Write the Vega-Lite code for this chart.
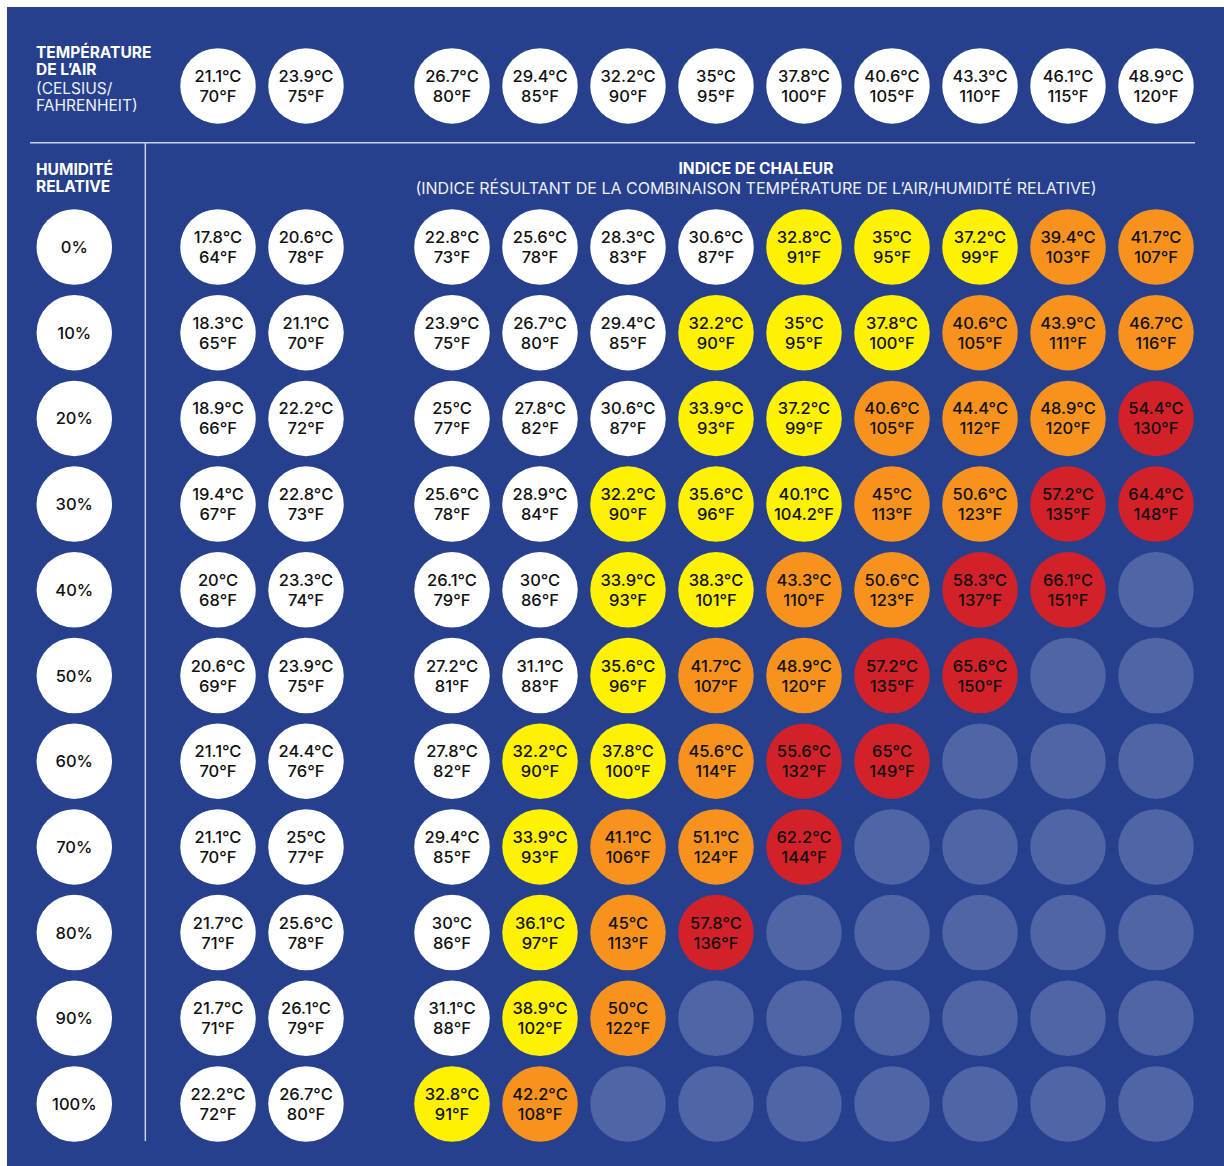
{
  "$schema": "https://vega.github.io/schema/vega-lite/v6.json",
  "width": 1217,
  "height": 1159,
  "padding": {"left": 7, "top": 7, "right": 0, "bottom": 0},
  "autosize": {"type": "none"},
  "background": "#ffffff",
  "config": {
    "view": {"fill": "#26408e", "stroke": null},
    "text": {"font": "Inter"}
  },
  "datasets": {
    "air": [
      {"air": 70, "texte": "21.1°C\n70°F"},
      {"air": 75, "texte": "23.9°C\n75°F"},
      {"air": 80, "texte": "26.7°C\n80°F"},
      {"air": 85, "texte": "29.4°C\n85°F"},
      {"air": 90, "texte": "32.2°C\n90°F"},
      {"air": 95, "texte": "35°C\n95°F"},
      {"air": 100, "texte": "37.8°C\n100°F"},
      {"air": 105, "texte": "40.6°C\n105°F"},
      {"air": 110, "texte": "43.3°C\n110°F"},
      {"air": 115, "texte": "46.1°C\n115°F"},
      {"air": 120, "texte": "48.9°C\n120°F"}
    ],
    "hr": [
      {"hr": 0, "texte": "0%"},
      {"hr": 10, "texte": "10%"},
      {"hr": 20, "texte": "20%"},
      {"hr": 30, "texte": "30%"},
      {"hr": 40, "texte": "40%"},
      {"hr": 50, "texte": "50%"},
      {"hr": 60, "texte": "60%"},
      {"hr": 70, "texte": "70%"},
      {"hr": 80, "texte": "80%"},
      {"hr": 90, "texte": "90%"},
      {"hr": 100, "texte": "100%"}
    ],
    "indice": [
      {"hr": 0, "air": 70, "texte": "17.8°C\n64°F", "niveau": "normal"},
      {"hr": 0, "air": 75, "texte": "20.6°C\n78°F", "niveau": "normal"},
      {"hr": 0, "air": 80, "texte": "22.8°C\n73°F", "niveau": "normal"},
      {"hr": 0, "air": 85, "texte": "25.6°C\n78°F", "niveau": "normal"},
      {"hr": 0, "air": 90, "texte": "28.3°C\n83°F", "niveau": "normal"},
      {"hr": 0, "air": 95, "texte": "30.6°C\n87°F", "niveau": "normal"},
      {"hr": 0, "air": 100, "texte": "32.8°C\n91°F", "niveau": "prudence"},
      {"hr": 0, "air": 105, "texte": "35°C\n95°F", "niveau": "prudence"},
      {"hr": 0, "air": 110, "texte": "37.2°C\n99°F", "niveau": "prudence"},
      {"hr": 0, "air": 115, "texte": "39.4°C\n103°F", "niveau": "danger"},
      {"hr": 0, "air": 120, "texte": "41.7°C\n107°F", "niveau": "danger"},

      {"hr": 10, "air": 70, "texte": "18.3°C\n65°F", "niveau": "normal"},
      {"hr": 10, "air": 75, "texte": "21.1°C\n70°F", "niveau": "normal"},
      {"hr": 10, "air": 80, "texte": "23.9°C\n75°F", "niveau": "normal"},
      {"hr": 10, "air": 85, "texte": "26.7°C\n80°F", "niveau": "normal"},
      {"hr": 10, "air": 90, "texte": "29.4°C\n85°F", "niveau": "normal"},
      {"hr": 10, "air": 95, "texte": "32.2°C\n90°F", "niveau": "prudence"},
      {"hr": 10, "air": 100, "texte": "35°C\n95°F", "niveau": "prudence"},
      {"hr": 10, "air": 105, "texte": "37.8°C\n100°F", "niveau": "prudence"},
      {"hr": 10, "air": 110, "texte": "40.6°C\n105°F", "niveau": "danger"},
      {"hr": 10, "air": 115, "texte": "43.9°C\n111°F", "niveau": "danger"},
      {"hr": 10, "air": 120, "texte": "46.7°C\n116°F", "niveau": "danger"},

      {"hr": 20, "air": 70, "texte": "18.9°C\n66°F", "niveau": "normal"},
      {"hr": 20, "air": 75, "texte": "22.2°C\n72°F", "niveau": "normal"},
      {"hr": 20, "air": 80, "texte": "25°C\n77°F", "niveau": "normal"},
      {"hr": 20, "air": 85, "texte": "27.8°C\n82°F", "niveau": "normal"},
      {"hr": 20, "air": 90, "texte": "30.6°C\n87°F", "niveau": "normal"},
      {"hr": 20, "air": 95, "texte": "33.9°C\n93°F", "niveau": "prudence"},
      {"hr": 20, "air": 100, "texte": "37.2°C\n99°F", "niveau": "prudence"},
      {"hr": 20, "air": 105, "texte": "40.6°C\n105°F", "niveau": "danger"},
      {"hr": 20, "air": 110, "texte": "44.4°C\n112°F", "niveau": "danger"},
      {"hr": 20, "air": 115, "texte": "48.9°C\n120°F", "niveau": "danger"},
      {"hr": 20, "air": 120, "texte": "54.4°C\n130°F", "niveau": "danger extrême"},

      {"hr": 30, "air": 70, "texte": "19.4°C\n67°F", "niveau": "normal"},
      {"hr": 30, "air": 75, "texte": "22.8°C\n73°F", "niveau": "normal"},
      {"hr": 30, "air": 80, "texte": "25.6°C\n78°F", "niveau": "normal"},
      {"hr": 30, "air": 85, "texte": "28.9°C\n84°F", "niveau": "normal"},
      {"hr": 30, "air": 90, "texte": "32.2°C\n90°F", "niveau": "prudence"},
      {"hr": 30, "air": 95, "texte": "35.6°C\n96°F", "niveau": "prudence"},
      {"hr": 30, "air": 100, "texte": "40.1°C\n104.2°F", "niveau": "prudence"},
      {"hr": 30, "air": 105, "texte": "45°C\n113°F", "niveau": "danger"},
      {"hr": 30, "air": 110, "texte": "50.6°C\n123°F", "niveau": "danger"},
      {"hr": 30, "air": 115, "texte": "57.2°C\n135°F", "niveau": "danger extrême"},
      {"hr": 30, "air": 120, "texte": "64.4°C\n148°F", "niveau": "danger extrême"},

      {"hr": 40, "air": 70, "texte": "20°C\n68°F", "niveau": "normal"},
      {"hr": 40, "air": 75, "texte": "23.3°C\n74°F", "niveau": "normal"},
      {"hr": 40, "air": 80, "texte": "26.1°C\n79°F", "niveau": "normal"},
      {"hr": 40, "air": 85, "texte": "30°C\n86°F", "niveau": "normal"},
      {"hr": 40, "air": 90, "texte": "33.9°C\n93°F", "niveau": "prudence"},
      {"hr": 40, "air": 95, "texte": "38.3°C\n101°F", "niveau": "prudence"},
      {"hr": 40, "air": 100, "texte": "43.3°C\n110°F", "niveau": "danger"},
      {"hr": 40, "air": 105, "texte": "50.6°C\n123°F", "niveau": "danger"},
      {"hr": 40, "air": 110, "texte": "58.3°C\n137°F", "niveau": "danger extrême"},
      {"hr": 40, "air": 115, "texte": "66.1°C\n151°F", "niveau": "danger extrême"},
      {"hr": 40, "air": 120, "texte": "", "niveau": "hors tableau"},

      {"hr": 50, "air": 70, "texte": "20.6°C\n69°F", "niveau": "normal"},
      {"hr": 50, "air": 75, "texte": "23.9°C\n75°F", "niveau": "normal"},
      {"hr": 50, "air": 80, "texte": "27.2°C\n81°F", "niveau": "normal"},
      {"hr": 50, "air": 85, "texte": "31.1°C\n88°F", "niveau": "normal"},
      {"hr": 50, "air": 90, "texte": "35.6°C\n96°F", "niveau": "prudence"},
      {"hr": 50, "air": 95, "texte": "41.7°C\n107°F", "niveau": "danger"},
      {"hr": 50, "air": 100, "texte": "48.9°C\n120°F", "niveau": "danger"},
      {"hr": 50, "air": 105, "texte": "57.2°C\n135°F", "niveau": "danger extrême"},
      {"hr": 50, "air": 110, "texte": "65.6°C\n150°F", "niveau": "danger extrême"},
      {"hr": 50, "air": 115, "texte": "", "niveau": "hors tableau"},
      {"hr": 50, "air": 120, "texte": "", "niveau": "hors tableau"},

      {"hr": 60, "air": 70, "texte": "21.1°C\n70°F", "niveau": "normal"},
      {"hr": 60, "air": 75, "texte": "24.4°C\n76°F", "niveau": "normal"},
      {"hr": 60, "air": 80, "texte": "27.8°C\n82°F", "niveau": "normal"},
      {"hr": 60, "air": 85, "texte": "32.2°C\n90°F", "niveau": "prudence"},
      {"hr": 60, "air": 90, "texte": "37.8°C\n100°F", "niveau": "prudence"},
      {"hr": 60, "air": 95, "texte": "45.6°C\n114°F", "niveau": "danger"},
      {"hr": 60, "air": 100, "texte": "55.6°C\n132°F", "niveau": "danger extrême"},
      {"hr": 60, "air": 105, "texte": "65°C\n149°F", "niveau": "danger extrême"},
      {"hr": 60, "air": 110, "texte": "", "niveau": "hors tableau"},
      {"hr": 60, "air": 115, "texte": "", "niveau": "hors tableau"},
      {"hr": 60, "air": 120, "texte": "", "niveau": "hors tableau"},

      {"hr": 70, "air": 70, "texte": "21.1°C\n70°F", "niveau": "normal"},
      {"hr": 70, "air": 75, "texte": "25°C\n77°F", "niveau": "normal"},
      {"hr": 70, "air": 80, "texte": "29.4°C\n85°F", "niveau": "normal"},
      {"hr": 70, "air": 85, "texte": "33.9°C\n93°F", "niveau": "prudence"},
      {"hr": 70, "air": 90, "texte": "41.1°C\n106°F", "niveau": "danger"},
      {"hr": 70, "air": 95, "texte": "51.1°C\n124°F", "niveau": "danger"},
      {"hr": 70, "air": 100, "texte": "62.2°C\n144°F", "niveau": "danger extrême"},
      {"hr": 70, "air": 105, "texte": "", "niveau": "hors tableau"},
      {"hr": 70, "air": 110, "texte": "", "niveau": "hors tableau"},
      {"hr": 70, "air": 115, "texte": "", "niveau": "hors tableau"},
      {"hr": 70, "air": 120, "texte": "", "niveau": "hors tableau"},

      {"hr": 80, "air": 70, "texte": "21.7°C\n71°F", "niveau": "normal"},
      {"hr": 80, "air": 75, "texte": "25.6°C\n78°F", "niveau": "normal"},
      {"hr": 80, "air": 80, "texte": "30°C\n86°F", "niveau": "normal"},
      {"hr": 80, "air": 85, "texte": "36.1°C\n97°F", "niveau": "prudence"},
      {"hr": 80, "air": 90, "texte": "45°C\n113°F", "niveau": "danger"},
      {"hr": 80, "air": 95, "texte": "57.8°C\n136°F", "niveau": "danger extrême"},
      {"hr": 80, "air": 100, "texte": "", "niveau": "hors tableau"},
      {"hr": 80, "air": 105, "texte": "", "niveau": "hors tableau"},
      {"hr": 80, "air": 110, "texte": "", "niveau": "hors tableau"},
      {"hr": 80, "air": 115, "texte": "", "niveau": "hors tableau"},
      {"hr": 80, "air": 120, "texte": "", "niveau": "hors tableau"},

      {"hr": 90, "air": 70, "texte": "21.7°C\n71°F", "niveau": "normal"},
      {"hr": 90, "air": 75, "texte": "26.1°C\n79°F", "niveau": "normal"},
      {"hr": 90, "air": 80, "texte": "31.1°C\n88°F", "niveau": "normal"},
      {"hr": 90, "air": 85, "texte": "38.9°C\n102°F", "niveau": "prudence"},
      {"hr": 90, "air": 90, "texte": "50°C\n122°F", "niveau": "danger"},
      {"hr": 90, "air": 95, "texte": "", "niveau": "hors tableau"},
      {"hr": 90, "air": 100, "texte": "", "niveau": "hors tableau"},
      {"hr": 90, "air": 105, "texte": "", "niveau": "hors tableau"},
      {"hr": 90, "air": 110, "texte": "", "niveau": "hors tableau"},
      {"hr": 90, "air": 115, "texte": "", "niveau": "hors tableau"},
      {"hr": 90, "air": 120, "texte": "", "niveau": "hors tableau"},

      {"hr": 100, "air": 70, "texte": "22.2°C\n72°F", "niveau": "normal"},
      {"hr": 100, "air": 75, "texte": "26.7°C\n80°F", "niveau": "normal"},
      {"hr": 100, "air": 80, "texte": "32.8°C\n91°F", "niveau": "prudence"},
      {"hr": 100, "air": 85, "texte": "42.2°C\n108°F", "niveau": "danger"},
      {"hr": 100, "air": 90, "texte": "", "niveau": "hors tableau"},
      {"hr": 100, "air": 95, "texte": "", "niveau": "hors tableau"},
      {"hr": 100, "air": 100, "texte": "", "niveau": "hors tableau"},
      {"hr": 100, "air": 105, "texte": "", "niveau": "hors tableau"},
      {"hr": 100, "air": 110, "texte": "", "niveau": "hors tableau"},
      {"hr": 100, "air": 115, "texte": "", "niveau": "hors tableau"},
      {"hr": 100, "air": 120, "texte": "", "niveau": "hors tableau"}
    ]
  },
  "layer": [
    {
      "data": {"values": [{"ligne": "séparateur horizontal"}]},
      "mark": {"type": "rule", "color": "#c9d1e8", "strokeWidth": 1.5},
      "encoding": {
        "x": {"datum": 59.32, "type": "quantitative", "scale": {"type": "linear", "domain": [70, 75, 80, 120], "range": [211, 299, 445, 1149], "zero": false, "nice": false}, "axis": null},
        "x2": {"datum": 122.22},
        "y": {"datum": -12.17, "type": "quantitative", "scale": {"type": "linear", "domain": [0, 100], "range": [240, 1097], "zero": false, "nice": false}, "axis": null}
      }
    },
    {
      "data": {"values": [{"ligne": "séparateur vertical"}]},
      "mark": {"type": "rule", "color": "#c9d1e8", "strokeWidth": 1.5},
      "encoding": {
        "x": {"datum": 65.87, "type": "quantitative", "scale": {"type": "linear", "domain": [70, 75, 80, 120], "range": [211, 299, 445, 1149], "zero": false, "nice": false}, "axis": null},
        "y": {"datum": -12.17, "type": "quantitative", "scale": {"type": "linear", "domain": [0, 100], "range": [240, 1097], "zero": false, "nice": false}, "axis": null},
        "y2": {"datum": 104.32}
      }
    },
    {
      "data": {"name": "air"},
      "mark": {"type": "circle", "color": "#ffffff", "opacity": 1, "size": 5700},
      "encoding": {
        "x": {"field": "air", "type": "quantitative", "scale": {"type": "linear", "domain": [70, 75, 80, 120], "range": [211, 299, 445, 1149], "zero": false, "nice": false}, "axis": null},
        "y": {"datum": -18.79, "type": "quantitative", "scale": {"type": "linear", "domain": [0, 100], "range": [240, 1097], "zero": false, "nice": false}, "axis": null}
      }
    },
    {
      "data": {"name": "air"},
      "mark": {"type": "text", "color": "#111111", "fontSize": 16.5, "fontWeight": 500, "lineBreak": "\n", "lineHeight": 20, "align": "center", "baseline": "middle", "dy": -9},
      "encoding": {
        "x": {"field": "air", "type": "quantitative", "scale": {"type": "linear", "domain": [70, 75, 80, 120], "range": [211, 299, 445, 1149], "zero": false, "nice": false}, "axis": null},
        "y": {"datum": -18.79, "type": "quantitative", "scale": {"type": "linear", "domain": [0, 100], "range": [240, 1097], "zero": false, "nice": false}, "axis": null},
        "text": {"field": "texte", "type": "nominal"}
      }
    },
    {
      "data": {"name": "hr"},
      "mark": {"type": "circle", "color": "#ffffff", "opacity": 1, "size": 5700},
      "encoding": {
        "x": {"datum": 61.835, "type": "quantitative", "scale": {"type": "linear", "domain": [70, 75, 80, 120], "range": [211, 299, 445, 1149], "zero": false, "nice": false}, "axis": null},
        "y": {"field": "hr", "type": "quantitative", "scale": {"type": "linear", "domain": [0, 100], "range": [240, 1097], "zero": false, "nice": false}, "axis": null}
      }
    },
    {
      "data": {"name": "hr"},
      "mark": {"type": "text", "color": "#111111", "fontSize": 16.5, "fontWeight": 500, "align": "center", "baseline": "middle", "dy": 1},
      "encoding": {
        "x": {"datum": 61.835, "type": "quantitative", "scale": {"type": "linear", "domain": [70, 75, 80, 120], "range": [211, 299, 445, 1149], "zero": false, "nice": false}, "axis": null},
        "y": {"field": "hr", "type": "quantitative", "scale": {"type": "linear", "domain": [0, 100], "range": [240, 1097], "zero": false, "nice": false}, "axis": null},
        "text": {"field": "texte", "type": "nominal"}
      }
    },
    {
      "data": {"name": "indice"},
      "mark": {"type": "circle", "opacity": 1, "size": 5700},
      "encoding": {
        "x": {"field": "air", "type": "quantitative", "scale": {"type": "linear", "domain": [70, 75, 80, 120], "range": [211, 299, 445, 1149], "zero": false, "nice": false}, "axis": null},
        "y": {"field": "hr", "type": "quantitative", "scale": {"type": "linear", "domain": [0, 100], "range": [240, 1097], "zero": false, "nice": false}, "axis": null},
        "color": {"field": "niveau", "type": "nominal", "scale": {"domain": ["normal", "prudence", "danger", "danger extrême", "hors tableau"], "range": ["#ffffff", "#fff200", "#f7921e", "#d3212a", "#5065a5"]}, "legend": null}
      }
    },
    {
      "data": {"name": "indice"},
      "transform": [{"filter": "datum.texte != ''"}],
      "mark": {"type": "text", "color": "#111111", "fontSize": 16.5, "fontWeight": 500, "lineBreak": "\n", "lineHeight": 20, "align": "center", "baseline": "middle", "dy": -9},
      "encoding": {
        "x": {"field": "air", "type": "quantitative", "scale": {"type": "linear", "domain": [70, 75, 80, 120], "range": [211, 299, 445, 1149], "zero": false, "nice": false}, "axis": null},
        "y": {"field": "hr", "type": "quantitative", "scale": {"type": "linear", "domain": [0, 100], "range": [240, 1097], "zero": false, "nice": false}, "axis": null},
        "text": {"field": "texte", "type": "nominal"}
      }
    },
    {
      "data": {"values": [{"texte": "TEMPÉRATURE\nDE L’AIR"}]},
      "mark": {"type": "text", "color": "#ffffff", "fontSize": 15.5, "fontWeight": "bold", "lineBreak": "\n", "lineHeight": 17, "align": "left", "baseline": "alphabetic"},
      "encoding": {
        "x": {"datum": 59.66, "type": "quantitative", "scale": {"type": "linear", "domain": [70, 75, 80, 120], "range": [211, 299, 445, 1149], "zero": false, "nice": false}, "axis": null},
        "y": {"datum": -22.0, "type": "quantitative", "scale": {"type": "linear", "domain": [0, 100], "range": [240, 1097], "zero": false, "nice": false}, "axis": null},
        "text": {"field": "texte", "type": "nominal"}
      }
    },
    {
      "data": {"values": [{"texte": "(CELSIUS/\nFAHRENHEIT)"}]},
      "mark": {"type": "text", "color": "#eef1f8", "fontSize": 15.5, "fontWeight": "normal", "lineBreak": "\n", "lineHeight": 17, "align": "left", "baseline": "alphabetic"},
      "encoding": {
        "x": {"datum": 59.66, "type": "quantitative", "scale": {"type": "linear", "domain": [70, 75, 80, 120], "range": [211, 299, 445, 1149], "zero": false, "nice": false}, "axis": null},
        "y": {"datum": -17.9, "type": "quantitative", "scale": {"type": "linear", "domain": [0, 100], "range": [240, 1097], "zero": false, "nice": false}, "axis": null},
        "text": {"field": "texte", "type": "nominal"}
      }
    },
    {
      "data": {"values": [{"texte": "HUMIDITÉ\nRELATIVE"}]},
      "mark": {"type": "text", "color": "#ffffff", "fontSize": 15.5, "fontWeight": "bold", "lineBreak": "\n", "lineHeight": 17, "align": "left", "baseline": "alphabetic"},
      "encoding": {
        "x": {"datum": 59.66, "type": "quantitative", "scale": {"type": "linear", "domain": [70, 75, 80, 120], "range": [211, 299, 445, 1149], "zero": false, "nice": false}, "axis": null},
        "y": {"datum": -8.40, "type": "quantitative", "scale": {"type": "linear", "domain": [0, 100], "range": [240, 1097], "zero": false, "nice": false}, "axis": null},
        "text": {"field": "texte", "type": "nominal"}
      }
    },
    {
      "data": {"values": [{"texte": "INDICE DE CHALEUR"}]},
      "mark": {"type": "text", "color": "#ffffff", "fontSize": 15.5, "fontWeight": "bold", "align": "center", "baseline": "alphabetic"},
      "encoding": {
        "x": {"datum": 97.27, "type": "quantitative", "scale": {"type": "linear", "domain": [70, 75, 80, 120], "range": [211, 299, 445, 1149], "zero": false, "nice": false}, "axis": null},
        "y": {"datum": -8.55, "type": "quantitative", "scale": {"type": "linear", "domain": [0, 100], "range": [240, 1097], "zero": false, "nice": false}, "axis": null},
        "text": {"field": "texte", "type": "nominal"}
      }
    },
    {
      "data": {"values": [{"texte": "(INDICE RÉSULTANT DE LA COMBINAISON TEMPÉRATURE DE L’AIR/HUMIDITÉ RELATIVE)"}]},
      "mark": {"type": "text", "color": "#eef1f8", "fontSize": 16, "fontWeight": "normal", "align": "center", "baseline": "alphabetic"},
      "encoding": {
        "x": {"datum": 97.27, "type": "quantitative", "scale": {"type": "linear", "domain": [70, 75, 80, 120], "range": [211, 299, 445, 1149], "zero": false, "nice": false}, "axis": null},
        "y": {"datum": -6.2, "type": "quantitative", "scale": {"type": "linear", "domain": [0, 100], "range": [240, 1097], "zero": false, "nice": false}, "axis": null},
        "text": {"field": "texte", "type": "nominal"}
      }
    }
  ]
}
